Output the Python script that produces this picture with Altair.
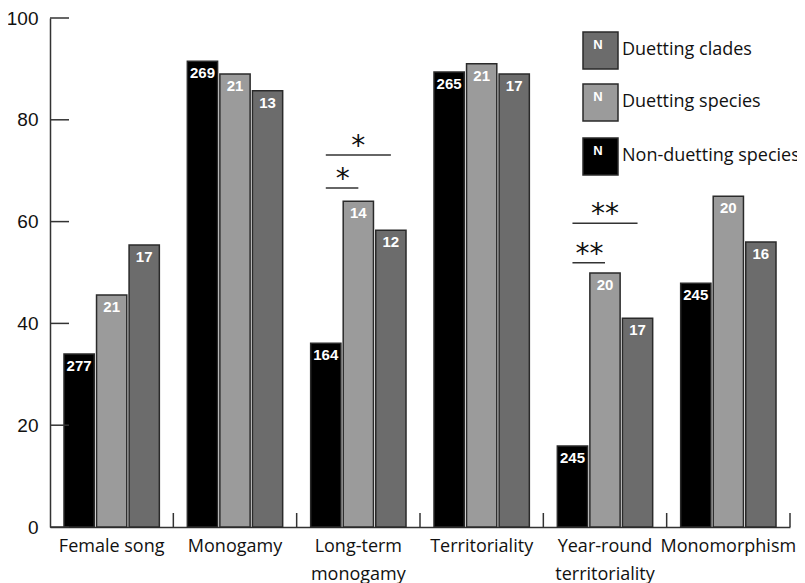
import altair as alt
import pandas as pd

categories = ["Female song", "Monogamy", "Long-term monogamy", "Territoriality",
              "Year-round territoriality", "Monomorphism"]
series = ["Non-duetting species", "Duetting species", "Duetting clades"]

nonduet_pct = [34.0, 91.5, 36.1, 89.4, 15.9, 47.9]
species_pct = [45.6, 89.0, 64.0, 91.0, 49.9, 65.0]
clades_pct = [55.4, 85.7, 58.3, 89.0, 41.0, 56.0]
nonduet_n = [277, 269, 164, 265, 245, 245]
species_n = [21, 21, 14, 21, 20, 20]
clades_n = [17, 13, 12, 17, 17, 16]

y_ticks = [0, 20, 40, 60, 80, 100]

# significance brackets
brk_cat = ["Long-term monogamy", "Long-term monogamy",
           "Year-round territoriality", "Year-round territoriality"]
brk_to = ["Duetting clades", "Duetting species", "Duetting clades", "Duetting species"]
brk_level = [73.1, 66.6, 59.7, 51.9]
brk_label = ["*", "*", "**", "**"]

colors = ["#000000", "#9b9b9b", "#6c6c6c"]
W, H = 740, 509

rows = []
for i, c in enumerate(categories):
    for s, v, n in zip(series, [nonduet_pct[i], species_pct[i], clades_pct[i]],
                       [nonduet_n[i], species_n[i], clades_n[i]]):
        rows.append({"category": c, "series": s, "pct": v, "n": n})
df = pd.DataFrame(rows)

line_rows = []
text_top, text_low = [], []
for k, (c, t, lv, lb) in enumerate(zip(brk_cat, brk_to, brk_level, brk_label)):
    line_rows.append({"id": k, "category": c, "series": series[0], "pct": lv})
    line_rows.append({"id": k, "category": c, "series": t, "pct": lv})
    rec = {"category": c, "pct": lv, "label": lb}
    if t == "Duetting clades":
        text_top.append(dict(rec, series="Duetting species"))
    else:
        text_low.append(dict(rec, series=series[0]))
df_lines = pd.DataFrame(line_rows)
df_ttop = pd.DataFrame(text_top)
df_tlow = pd.DataFrame(text_low)
df_ticks = pd.DataFrame({"v": y_ticks})
df_cat = pd.DataFrame({"category": categories})

x_enc = alt.X("category:N", sort=categories,
              scale=alt.Scale(paddingInner=0, paddingOuter=0),
              axis=alt.Axis(title=None, ticks=False, labelAngle=0, labelFontSize=18,
                            labelFont="Open Sans", labelColor="#111", labelPadding=10,
                            labelLineHeight=28, labelOverlap=False, labelBaseline="top",
                            domainColor="#333", domainWidth=1.5,
                            labelExpr="indexof(datum.label, '-') >= 0 ? split(datum.label, ' ') : datum.label"))
xo_enc = alt.XOffset("series:N", sort=series,
                     scale=alt.Scale(paddingInner=0.07, paddingOuter=0.43))
y_enc = alt.Y("pct:Q", scale=alt.Scale(domain=[0, 100], nice=False),
              axis=alt.Axis(title=None, values=y_ticks, ticks=False, grid=False,
                            labelFontSize=19, labelFont="Liberation Sans",
                            labelColor="#111", labelPadding=12,
                            domainColor="#333", domainWidth=1.5))

bars = alt.Chart(df).mark_bar(stroke="#2a2a2a", strokeWidth=1.5).encode(
    x=x_enc, xOffset=xo_enc, y=y_enc,
    color=alt.Color("series:N", sort=series,
                    scale=alt.Scale(domain=series, range=colors), legend=None),
)

labels = alt.Chart(df).mark_text(color="white", fontWeight="bold", fontSize=15,
                                 font="Liberation Sans", baseline="top", dy=5).encode(
    x=alt.X("category:N", sort=categories), xOffset=alt.XOffset("series:N", sort=series),
    y="pct:Q", text="n:Q")

brk_lines = alt.Chart(df_lines).mark_line(color="#333", strokeWidth=1.5).encode(
    x=alt.X("category:N", sort=categories), xOffset=alt.XOffset("series:N", sort=series),
    y="pct:Q", detail="id:N")

brk_top = alt.Chart(df_ttop).mark_text(fontSize=28, font="DejaVu Sans", color="#111",
                                       baseline="middle", dy=-8).encode(
    x=alt.X("category:N", sort=categories), xOffset=alt.XOffset("series:N", sort=series),
    y="pct:Q", text="label:N")

brk_low = alt.Chart(df_tlow).mark_text(fontSize=28, font="DejaVu Sans", color="#111",
                                       baseline="middle", dy=-8, dx=17).encode(
    x=alt.X("category:N", sort=categories), xOffset=alt.XOffset("series:N", sort=series),
    y="pct:Q", text="label:N")

ytick_rules = alt.Chart(df_ticks).mark_rule(color="#333", strokeWidth=1.5).encode(
    y="v:Q", x=alt.value(0), x2=alt.value(19))

xtick_rules = alt.Chart(df_cat).mark_rule(color="#333", strokeWidth=1.5).encode(
    x=alt.X("category:N", sort=categories, bandPosition=1),
    y=alt.value(H - 14), y2=alt.value(H))

legend_layers = []
legend_items = [("Duetting clades", colors[2], 14), ("Duetting species", colors[1], 66),
                ("Non-duetting species", colors[0], 120)]
for name, col, top in legend_items:
    legend_layers.append(alt.Chart(df_cat.head(1)).mark_rect(
        fill=col, stroke="#2a2a2a", strokeWidth=1.5).encode(
        x=alt.value(533), x2=alt.value(568), y=alt.value(top), y2=alt.value(top + 37)))
    legend_layers.append(alt.Chart(df_cat.head(1)).mark_text(
        text="N", color="white", fontWeight="bold", fontSize=13, font="Liberation Sans",
        baseline="top").encode(x=alt.value(548), y=alt.value(top + 7)))
    legend_layers.append(alt.Chart(df_cat.head(1)).mark_text(
        text=name, color="#111", fontSize=18, font="Open Sans", align="left",
        baseline="middle").encode(x=alt.value(572), y=alt.value(top + 18)))

chart = alt.layer(bars, labels, brk_lines, brk_top, brk_low, ytick_rules, xtick_rules,
                  *legend_layers).properties(
    width=W, height=H,
    autosize=alt.AutoSizeParams(type="none"),
    padding={"left": 42, "top": 10, "right": 7, "bottom": 56},
).configure_view(stroke=None)

chart.save("out.html", embed_options={"renderer": "svg", "actions": False})
